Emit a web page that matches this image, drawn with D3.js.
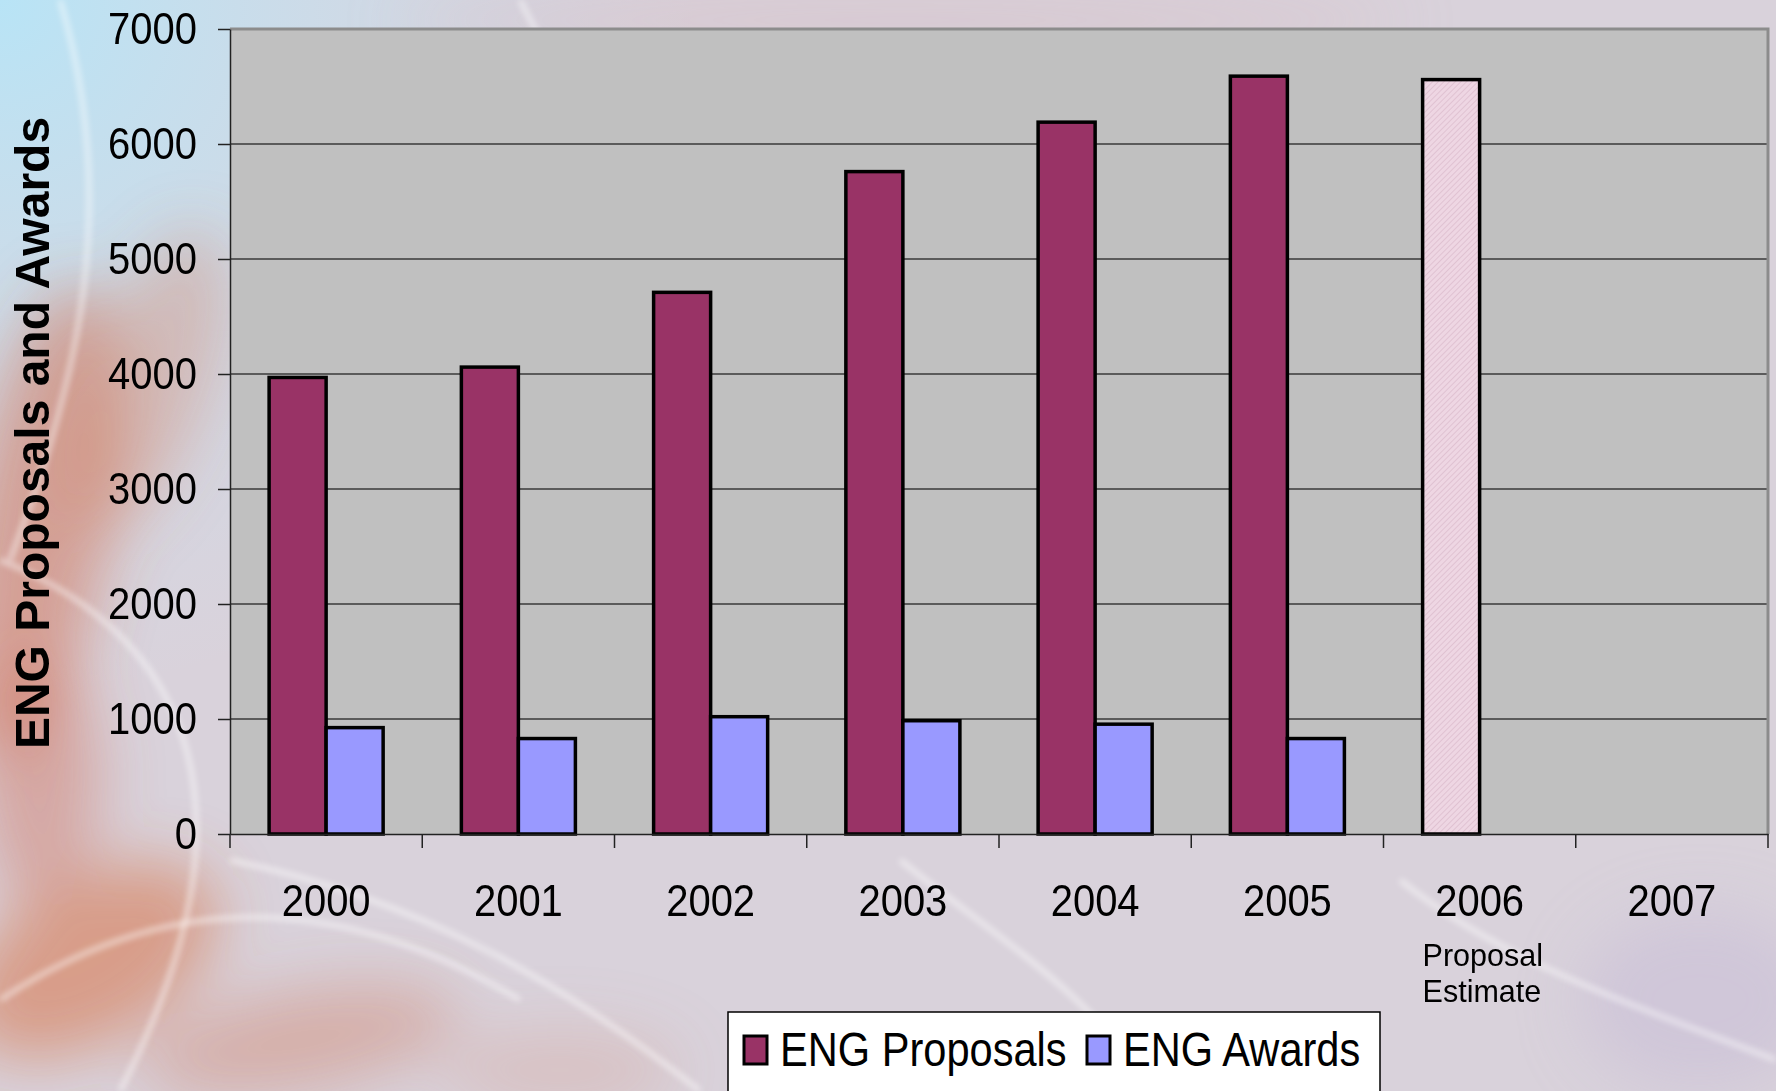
<!DOCTYPE html>
<meta charset="utf-8">
<style>
  body { margin: 0; overflow: hidden; background: #d8d2dc; }
  svg { display: block; font-family: "Liberation Sans", Arial, sans-serif; }
  .grid line { stroke: #3a3a3a; stroke-width: 1.5; }
  .bar { stroke: #000; stroke-width: 3.5; }
  .axis path, .axis line { stroke: #222; stroke-width: 1.5; }
  .axis text { font-size: 40px; fill: #000; }
</style>
<svg width="1776" height="1091"></svg>
<script src="https://d3js.org/d3.v7.min.js"></script>
<script>
// ---- data ----
var years = ["2000", "2001", "2002", "2003", "2004", "2005", "2006", "2007"];
var proposals = [3970, 4060, 4710, 5760, 6190, 6590, null, null];
var awards = [925, 830, 1020, 985, 955, 830, null, null];
var proposalEstimate = [null, null, null, null, null, null, 6560, null];
var yTicks = [0, 1000, 2000, 3000, 4000, 5000, 6000, 7000];
var seriesNames = ["ENG Proposals", "ENG Awards"];
var seriesColors = ["#993366", "#9999ff"];
var estimateNote = ["Proposal", "Estimate"];

var svg = d3.select("svg");
var defs = svg.append("defs");

/* background: smoky blue / orange / lavender */
var blur = defs.append("filter").attr("id", "blur").attr("x", "-50%").attr("y", "-50%")
    .attr("width", "200%").attr("height", "200%");
blur.append("feGaussianBlur").attr("stdDeviation", 30);
var soft = defs.append("filter").attr("id", "soft").attr("x", "-20%").attr("y", "-20%")
    .attr("width", "140%").attr("height", "140%");
soft.append("feGaussianBlur").attr("stdDeviation", 3);

var rg = defs.append("radialGradient").attr("id", "bluecorner")
    .attr("cx", 0).attr("cy", 0).attr("r", 700).attr("gradientUnits", "userSpaceOnUse");
rg.append("stop").attr("offset", 0).attr("stop-color", "#b8e4f6").attr("stop-opacity", 1);
rg.append("stop").attr("offset", 1).attr("stop-color", "#cfe0ee").attr("stop-opacity", 0);

svg.append("rect").attr("width", 1776).attr("height", 1091).attr("fill", "#d9d2db");
svg.append("rect").attr("width", 1776).attr("height", 1091).attr("fill", "url(#bluecorner)");

var warm = [
  [40, 520, 70, 240, 10, "#d0603c", 0.45],
  [150, 380, 60, 160, 20, "#d4744e", 0.3],
  [90, 960, 140, 80, -30, "#d86a36", 0.5],
  [300, 1040, 160, 50, -10, "#cf7050", 0.35],
  [40, 780, 60, 120, 0, "#d06a50", 0.4],
  [560, 1070, 120, 40, 0, "#d49a8c", 0.3],
  [1700, 1000, 120, 90, 0, "#c8bcd8", 0.5],
  [900, 20, 500, 30, 0, "#d8c0c8", 0.5]
];
svg.append("g").attr("filter", "url(#blur)")
  .selectAll("ellipse").data(warm).enter().append("ellipse")
    .attr("transform", function(d) { return "translate(" + d[0] + "," + d[1] + ") rotate(" + d[4] + ")"; })
    .attr("rx", function(d) { return d[2]; })
    .attr("ry", function(d) { return d[3]; })
    .attr("fill", function(d) { return d[5]; })
    .attr("opacity", function(d) { return d[6]; });

var streaks = [
  "M 0 560 C 200 640, 260 820, 120 1091",
  "M 230 860 C 420 900, 560 980, 700 1091",
  "M 0 1000 C 150 900, 320 880, 520 1000",
  "M 900 860 C 1000 940, 1100 1000, 1150 1091",
  "M 1400 880 C 1500 960, 1620 1000, 1776 1060",
  "M 520 0 C 560 80, 600 140, 620 200",
  "M 60 0 C 120 200, 80 380, 10 560"
];
svg.append("g").attr("filter", "url(#soft)")
  .selectAll("path").data(streaks).enter().append("path")
    .attr("d", function(d) { return d; })
    .attr("fill", "none").attr("stroke", "#ffffff")
    .attr("stroke-width", 5).attr("opacity", 0.55);

/* hatch for the estimate bar */
var pat = defs.append("pattern").attr("id", "hatch").attr("patternUnits", "userSpaceOnUse")
    .attr("width", 4).attr("height", 4).attr("patternTransform", "rotate(45)");
pat.append("rect").attr("width", 4).attr("height", 4).attr("fill", "#eed6e3");
pat.append("line").attr("x1", 0).attr("y1", 0).attr("x2", 0).attr("y2", 4)
    .attr("stroke", "#dcbccd").attr("stroke-width", 1.5);

// ---- scales ----
var plotLeft = 230, plotRight = 1768, plotTop = 29, plotBottom = 834;
var x = d3.scaleBand().domain(years).range([plotLeft, plotRight]).padding(0);
var xs = d3.scaleBand().domain([0, 1]).range([0, x.bandwidth()]).paddingOuter(0.686).paddingInner(0);
var y = d3.scaleLinear().domain([0, 7000]).range([plotBottom, plotTop]);

// plot area
svg.append("rect").attr("x", plotLeft).attr("y", plotTop)
    .attr("width", plotRight - plotLeft).attr("height", plotBottom - plotTop)
    .attr("fill", "#c0c0c0");

svg.append("g").attr("class", "grid")
  .selectAll("line").data(yTicks.filter(function(d) { return d > 0 && d < 7000; }))
  .enter().append("line")
    .attr("x1", plotLeft).attr("x2", plotRight)
    .attr("y1", function(d) { return y(d); })
    .attr("y2", function(d) { return y(d); });

// frame top / right
svg.append("path")
    .attr("d", "M" + plotLeft + "," + plotTop + "H" + plotRight + "V" + plotBottom)
    .attr("fill", "none").attr("stroke", "#8c8c8c").attr("stroke-width", 3);

// bars
var rows = years.map(function(yr, i) {
  return { year: yr, p: proposals[i], a: awards[i], e: proposalEstimate[i] };
});
var groups = svg.append("g").selectAll("g").data(rows).enter().append("g")
    .attr("transform", function(d) { return "translate(" + x(d.year) + ",0)"; });

groups.filter(function(d) { return d.p != null; }).append("rect")
    .attr("class", "bar")
    .attr("x", xs(0)).attr("width", xs.bandwidth())
    .attr("y", function(d) { return y(d.p); })
    .attr("height", function(d) { return y(0) - y(d.p); })
    .attr("fill", seriesColors[0]);

groups.filter(function(d) { return d.a != null; }).append("rect")
    .attr("class", "bar")
    .attr("x", xs(1)).attr("width", xs.bandwidth())
    .attr("y", function(d) { return y(d.a); })
    .attr("height", function(d) { return y(0) - y(d.a); })
    .attr("fill", seriesColors[1]);

groups.filter(function(d) { return d.e != null; }).append("rect")
    .attr("class", "bar")
    .attr("x", xs(0)).attr("width", xs.bandwidth())
    .attr("y", function(d) { return y(d.e); })
    .attr("height", function(d) { return y(0) - y(d.e); })
    .attr("fill", "url(#hatch)");

// y axis
var yAxis = svg.append("g").attr("class", "axis")
    .attr("transform", "translate(" + plotLeft + ",0)")
    .call(d3.axisLeft(y).tickValues(yTicks).tickFormat(d3.format("d"))
      .tickSize(12).tickPadding(21).tickSizeOuter(0));
yAxis.selectAll("text").attr("transform", "scale(1,1.12)");

// x axis: labels centred, ticks on category boundaries
var xAxis = svg.append("g").attr("class", "axis")
    .attr("transform", "translate(0," + plotBottom + ")")
    .call(d3.axisBottom(x).tickSize(0).tickSizeOuter(0));
xAxis.selectAll("text").attr("y", 0).attr("dy", null)
    .attr("transform", "translate(0,82) scale(1,1.12)");

svg.append("g").selectAll("line").data(years.map(function(d) { return x(d); }).concat([plotRight]))
  .enter().append("line")
    .attr("x1", function(d) { return d; }).attr("x2", function(d) { return d; })
    .attr("y1", plotBottom).attr("y2", plotBottom + 14)
    .attr("stroke", "#222").attr("stroke-width", 1.5);

// note under 2006
svg.append("text")
    .attr("font-size", 30.5)
    .selectAll("tspan").data(estimateNote).enter().append("tspan")
    .attr("x", x("2006") + xs(0))
    .attr("y", function(d, i) { return 966 + i * 36; })
    .text(function(d) { return d; });

// y title
svg.append("text")
    .attr("transform", "translate(49,433) rotate(-90)")
    .attr("text-anchor", "middle")
    .attr("font-size", 48).attr("font-weight", "bold")
    .text("ENG Proposals and Awards");

// legend
var lg = svg.append("g").attr("transform", "translate(728,1012)");
lg.append("rect").attr("width", 652).attr("height", 120)
    .attr("fill", "#fff").attr("stroke", "#000").attr("stroke-width", 1.5);
var legX = [16, 359];
var items = lg.selectAll("g.item").data(seriesNames).enter().append("g")
    .attr("class", "item")
    .attr("transform", function(d, i) { return "translate(" + legX[i] + ",0)"; });
items.append("rect")
    .attr("x", 0).attr("y", 24).attr("width", 23).attr("height", 28)
    .attr("fill", function(d, i) { return seriesColors[i]; })
    .attr("stroke", "#000").attr("stroke-width", 3);
items.append("text")
    .attr("transform", "translate(36,54) scale(1,1.15)")
    .attr("font-size", 41.6)
    .text(function(d) { return d; });
</script>
